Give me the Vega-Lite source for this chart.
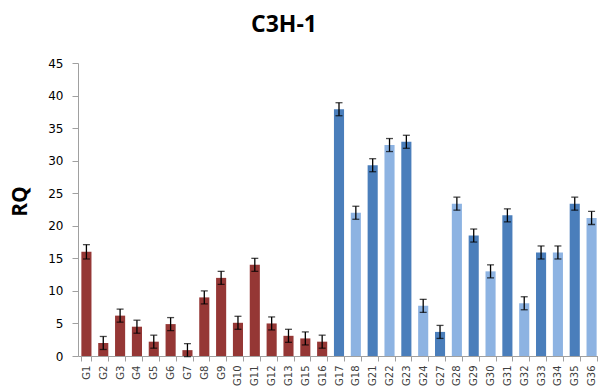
{
  "$schema": "https://vega.github.io/schema/vega-lite/v6.json",
  "autosize": "none",
  "padding": {"left": 78, "top": 63, "right": 0, "bottom": 30},
  "width": 522,
  "height": 293,
  "background": "white",
  "title": {"text": "C3H-1", "font": "Open Sans", "fontSize": 23, "fontWeight": "bold", "color": "#000000", "anchor": "middle", "frame": "group", "dx": -55, "offset": 20},
  "data": {"values": [
    {"g": "G1", "v": 16.0, "lo": 14.9, "hi": 17.1, "c": "red"},
    {"g": "G2", "v": 2.0, "lo": 1.0, "hi": 3.0, "c": "red"},
    {"g": "G3", "v": 6.2, "lo": 5.2, "hi": 7.2, "c": "red"},
    {"g": "G4", "v": 4.5, "lo": 3.5, "hi": 5.5, "c": "red"},
    {"g": "G5", "v": 2.2, "lo": 1.2, "hi": 3.2, "c": "red"},
    {"g": "G6", "v": 4.9, "lo": 3.9, "hi": 5.9, "c": "red"},
    {"g": "G7", "v": 0.9, "lo": -0.1, "hi": 1.9, "c": "red"},
    {"g": "G8", "v": 9.0, "lo": 8.0, "hi": 10.0, "c": "red"},
    {"g": "G9", "v": 12.0, "lo": 11.0, "hi": 13.0, "c": "red"},
    {"g": "G10", "v": 5.1, "lo": 4.1, "hi": 6.1, "c": "red"},
    {"g": "G11", "v": 14.0, "lo": 13.0, "hi": 15.0, "c": "red"},
    {"g": "G12", "v": 5.0, "lo": 4.0, "hi": 6.0, "c": "red"},
    {"g": "G13", "v": 3.1, "lo": 2.1, "hi": 4.1, "c": "red"},
    {"g": "G15", "v": 2.7, "lo": 1.7, "hi": 3.7, "c": "red"},
    {"g": "G16", "v": 2.2, "lo": 1.2, "hi": 3.2, "c": "red"},
    {"g": "G17", "v": 37.9, "lo": 36.9, "hi": 38.9, "c": "dark"},
    {"g": "G18", "v": 22.0, "lo": 21.0, "hi": 23.0, "c": "light"},
    {"g": "G21", "v": 29.3, "lo": 28.3, "hi": 30.3, "c": "dark"},
    {"g": "G22", "v": 32.4, "lo": 31.4, "hi": 33.4, "c": "light"},
    {"g": "G23", "v": 32.9, "lo": 31.9, "hi": 33.9, "c": "dark"},
    {"g": "G24", "v": 7.7, "lo": 6.7, "hi": 8.7, "c": "light"},
    {"g": "G27", "v": 3.7, "lo": 2.7, "hi": 4.7, "c": "dark"},
    {"g": "G28", "v": 23.4, "lo": 22.4, "hi": 24.4, "c": "light"},
    {"g": "G29", "v": 18.5, "lo": 17.5, "hi": 19.5, "c": "dark"},
    {"g": "G30", "v": 13.0, "lo": 12.0, "hi": 14.0, "c": "light"},
    {"g": "G31", "v": 21.6, "lo": 20.6, "hi": 22.6, "c": "dark"},
    {"g": "G32", "v": 8.1, "lo": 7.1, "hi": 9.1, "c": "light"},
    {"g": "G33", "v": 15.9, "lo": 14.9, "hi": 16.9, "c": "dark"},
    {"g": "G34", "v": 15.9, "lo": 14.9, "hi": 16.9, "c": "light"},
    {"g": "G35", "v": 23.4, "lo": 22.4, "hi": 24.4, "c": "dark"},
    {"g": "G36", "v": 21.2, "lo": 20.2, "hi": 22.2, "c": "light"}
  ]},
  "encoding": {
    "x": {"field": "g", "type": "nominal", "sort": null,
      "scale": {"paddingInner": 0.4, "paddingOuter": 0.2},
      "axis": {"title": null, "labelAngle": -90, "labelFont": "DejaVu Sans", "labelFontSize": 10, "labelColor": "#404040", "labelPadding": 4, "tickBand": "extent", "tickColor": "#a0a0a0", "tickSize": 5, "domainColor": "#a0a0a0", "labelBaseline": "middle", "labelAlign": "right"}}
  },
  "layer": [
    {"mark": {"type": "bar"},
     "encoding": {
       "y": {"field": "v", "type": "quantitative",
         "scale": {"domain": [0, 45], "nice": false},
         "axis": {"title": "RQ", "values": [0,5,10,15,20,25,30,35,40,45], "labelOverlap": false}},
       "color": {"field": "c", "type": "nominal", "scale": {"domain": ["red", "dark", "light"], "range": ["#953735", "#4a7ebb", "#8db3e2"]}, "legend": null}
     }},
    {"mark": {"type": "rule", "color": "#000000", "strokeWidth": 1.3},
     "encoding": {"y": {"field": "lo", "type": "quantitative", "axis": {"title": "RQ", "values": [0,5,10,15,20,25,30,35,40,45], "labelOverlap": false}}, "y2": {"field": "hi"}}},
    {"mark": {"type": "tick", "color": "#000000", "size": 7, "thickness": 1.3},
     "encoding": {"y": {"field": "lo", "type": "quantitative", "axis": {"title": "RQ", "values": [0,5,10,15,20,25,30,35,40,45], "labelOverlap": false}}}},
    {"mark": {"type": "tick", "color": "#000000", "size": 7, "thickness": 1.3},
     "encoding": {"y": {"field": "hi", "type": "quantitative", "axis": {"title": "RQ", "values": [0,5,10,15,20,25,30,35,40,45], "labelOverlap": false}}}}
  ],
  "config": {
    "view": {"stroke": null},
    "axisY": {"labelOverlap": false, "labelFlush": false, "grid": false, "labelFont": "DejaVu Sans", "labelFontSize": 12, "labelColor": "#000000", "labelPadding": 9, "tickSize": 6, "tickColor": "#a0a0a0", "domainColor": "#a0a0a0", "titleFont": "Open Sans", "titleFontSize": 21, "titleFontWeight": "bold", "titleColor": "#000000", "titleAngle": -90, "titleX": -58, "titleY": 138, "titleAlign": "center", "titleBaseline": "middle"}
  }
}
